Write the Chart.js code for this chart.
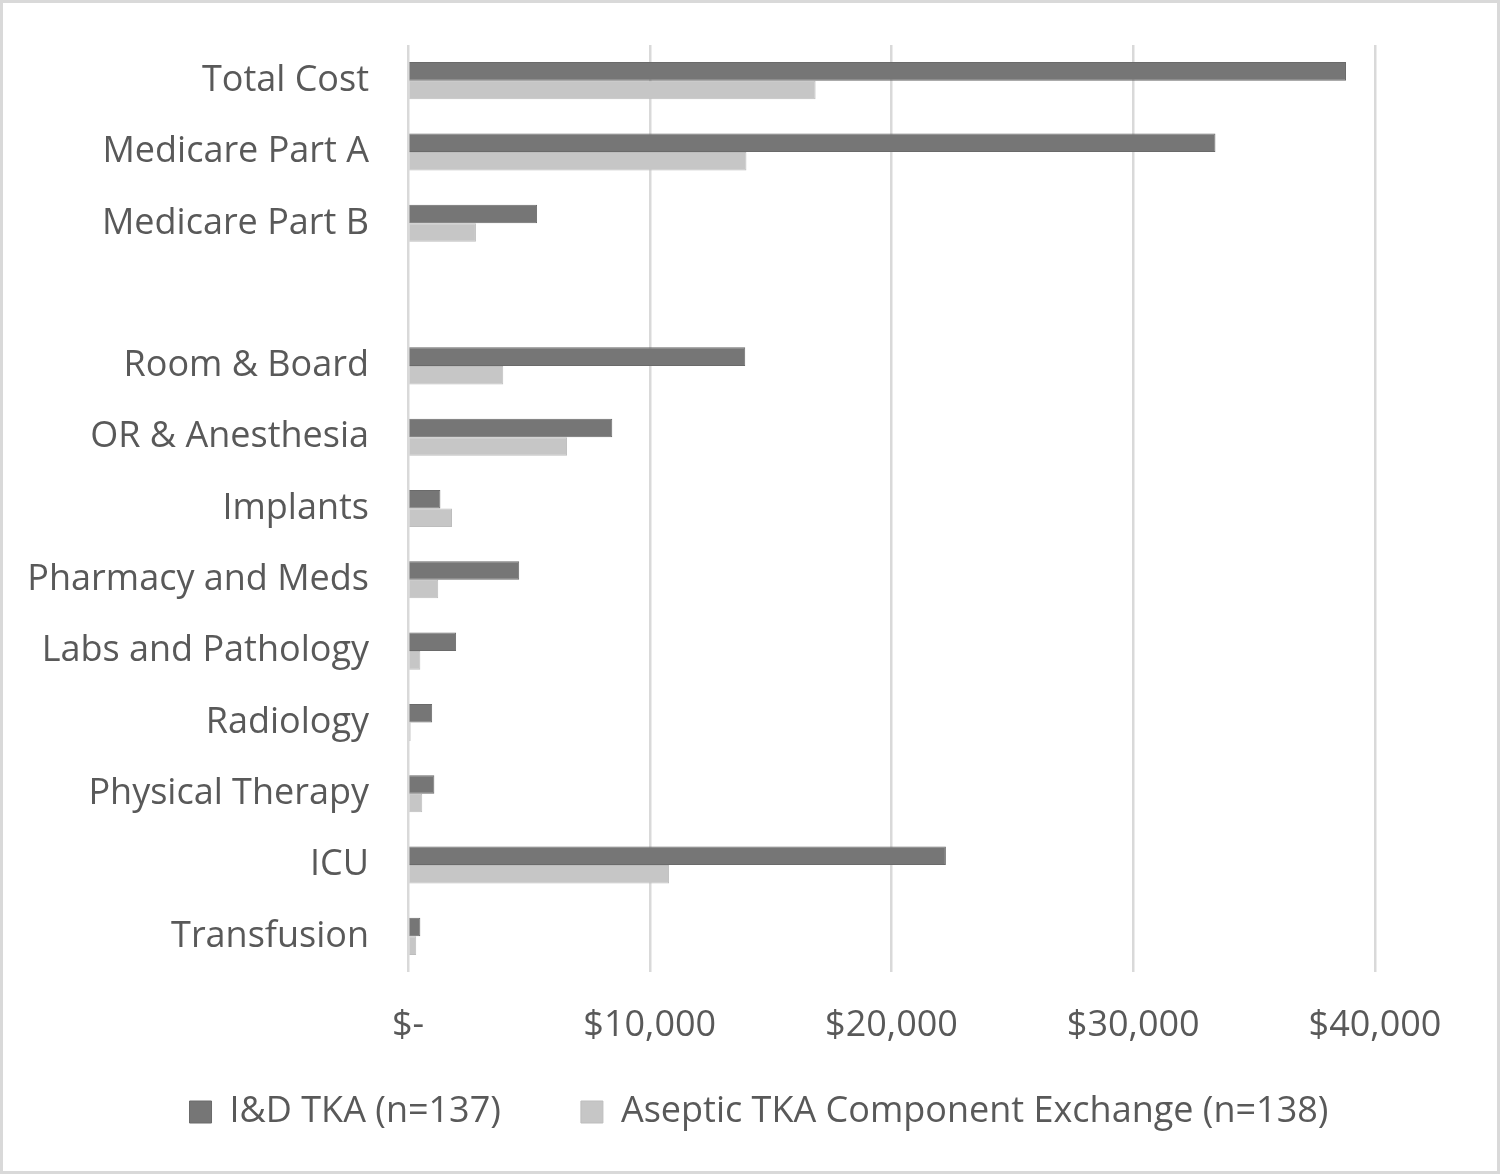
<!DOCTYPE html>
<html>
<head>
<meta charset="utf-8">
<script src="https://cdn.jsdelivr.net/npm/chart.js@4/dist/chart.umd.min.js"></script>
<style>
    html, body { margin: 0; padding: 0; background: #fff; }
    #wrap {
        width: 1500px; height: 1174px; box-sizing: border-box;
        border: 3px solid #d9d9d9; position: relative;
    }
    #wrap canvas { position: absolute; left: 0; top: 0; }
</style>
</head>
<body>
<div id="wrap"><canvas id="costChart" width="1494" height="1168"></canvas></div>
<script>
// Catégories (une ligne vide sépare les totaux du détail)
const categories = [
    "Total Cost", "Medicare Part A", "Medicare Part B", "",
    "Room & Board", "OR & Anesthesia", "Implants", "Pharmacy and Meds",
    "Labs and Pathology", "Radiology", "Physical Therapy", "ICU", "Transfusion"
];
// Coût moyen par patient (USD)
const idTka = [38800, 33400, 5340, null, 13950, 8450, 1340, 4600, 1990, 1000, 1090, 22250, 510];
const asepticTka = [16860, 14000, 2810, null, 3940, 6580, 1820, 1250, 510, 110, 590, 10800, 340];
const xTicks = [0, 10000, 20000, 30000, 40000];

const seriesNames = ["I&D TKA (n=137)", "Aseptic TKA Component Exchange (n=138)"];
const fontFamily = "'Open Sans', 'Noto Sans', sans-serif";
const textColor = "#595959";

function formatDollar(v) {
    return v === 0 ? "$-" : "$" + v.toLocaleString("en-US");
}

// Replace la légende (plus haut et un peu à droite)
const moveLegend = {
    id: "moveLegend",
    afterLayout(chart) {
        const lg = chart.legend;
        lg.left += 65;
        lg.right += 65;
        lg.top -= 44;
        lg.bottom -= 44;
    },
};

const ctx = document.getElementById("costChart").getContext("2d");
new Chart(ctx, {
    type: "bar",
    data: {
        labels: categories,
        datasets: [
            {
                label: seriesNames[0],
                data: idTka,
                backgroundColor: "#767676",
                borderColor: "#6a6a6a",
                borderWidth: 1,
            },
            {
                label: seriesNames[1],
                data: asepticTka,
                backgroundColor: "#c6c6c6",
                borderColor: "#bdbdbd",
                borderWidth: 1,
            },
        ],
    },
    plugins: [moveLegend],
    options: {
        indexAxis: "y",
        responsive: false,
        animation: false,
        layout: { padding: { top: 42, right: 122, bottom: -13, left: 10 } },
        datasets: {
            bar: { barPercentage: 1, categoryPercentage: 0.52 }
        },
        plugins: {
            legend: {
                position: "bottom",
                labels: {
                    font: { family: fontFamily, size: 36 },
                    color: textColor,
                    boxWidth: 22,
                    boxHeight: 22,
                    padding: 80,
                },
            },
            tooltip: { enabled: false },
        },
        scales: {
            x: {
                min: 0,
                max: 40000,
                afterBuildTicks: scale => { scale.ticks = xTicks.map(v => ({ value: v })); },
                grid: { color: "#d9d9d9", lineWidth: 2.5, drawTicks: false },
                border: { display: false },
                ticks: {
                    callback: v => formatDollar(v),
                    font: { family: fontFamily, size: 36 },
                    color: textColor,
                    padding: 32,
                    maxRotation: 0,
                },
                afterFit: scale => { scale.height = 86; },
            },
            y: {
                grid: { display: false },
                border: { display: false },
                ticks: {
                    font: { family: fontFamily, size: 36 },
                    color: textColor,
                    padding: 31,
                    autoSkip: false,
                },
                afterFit: scale => {
                    scale.width = 395;
                    scale.paddingTop = 0;
                    scale.paddingBottom = 0;
                },
            },
        },
    },
});
</script>
</body>
</html>
